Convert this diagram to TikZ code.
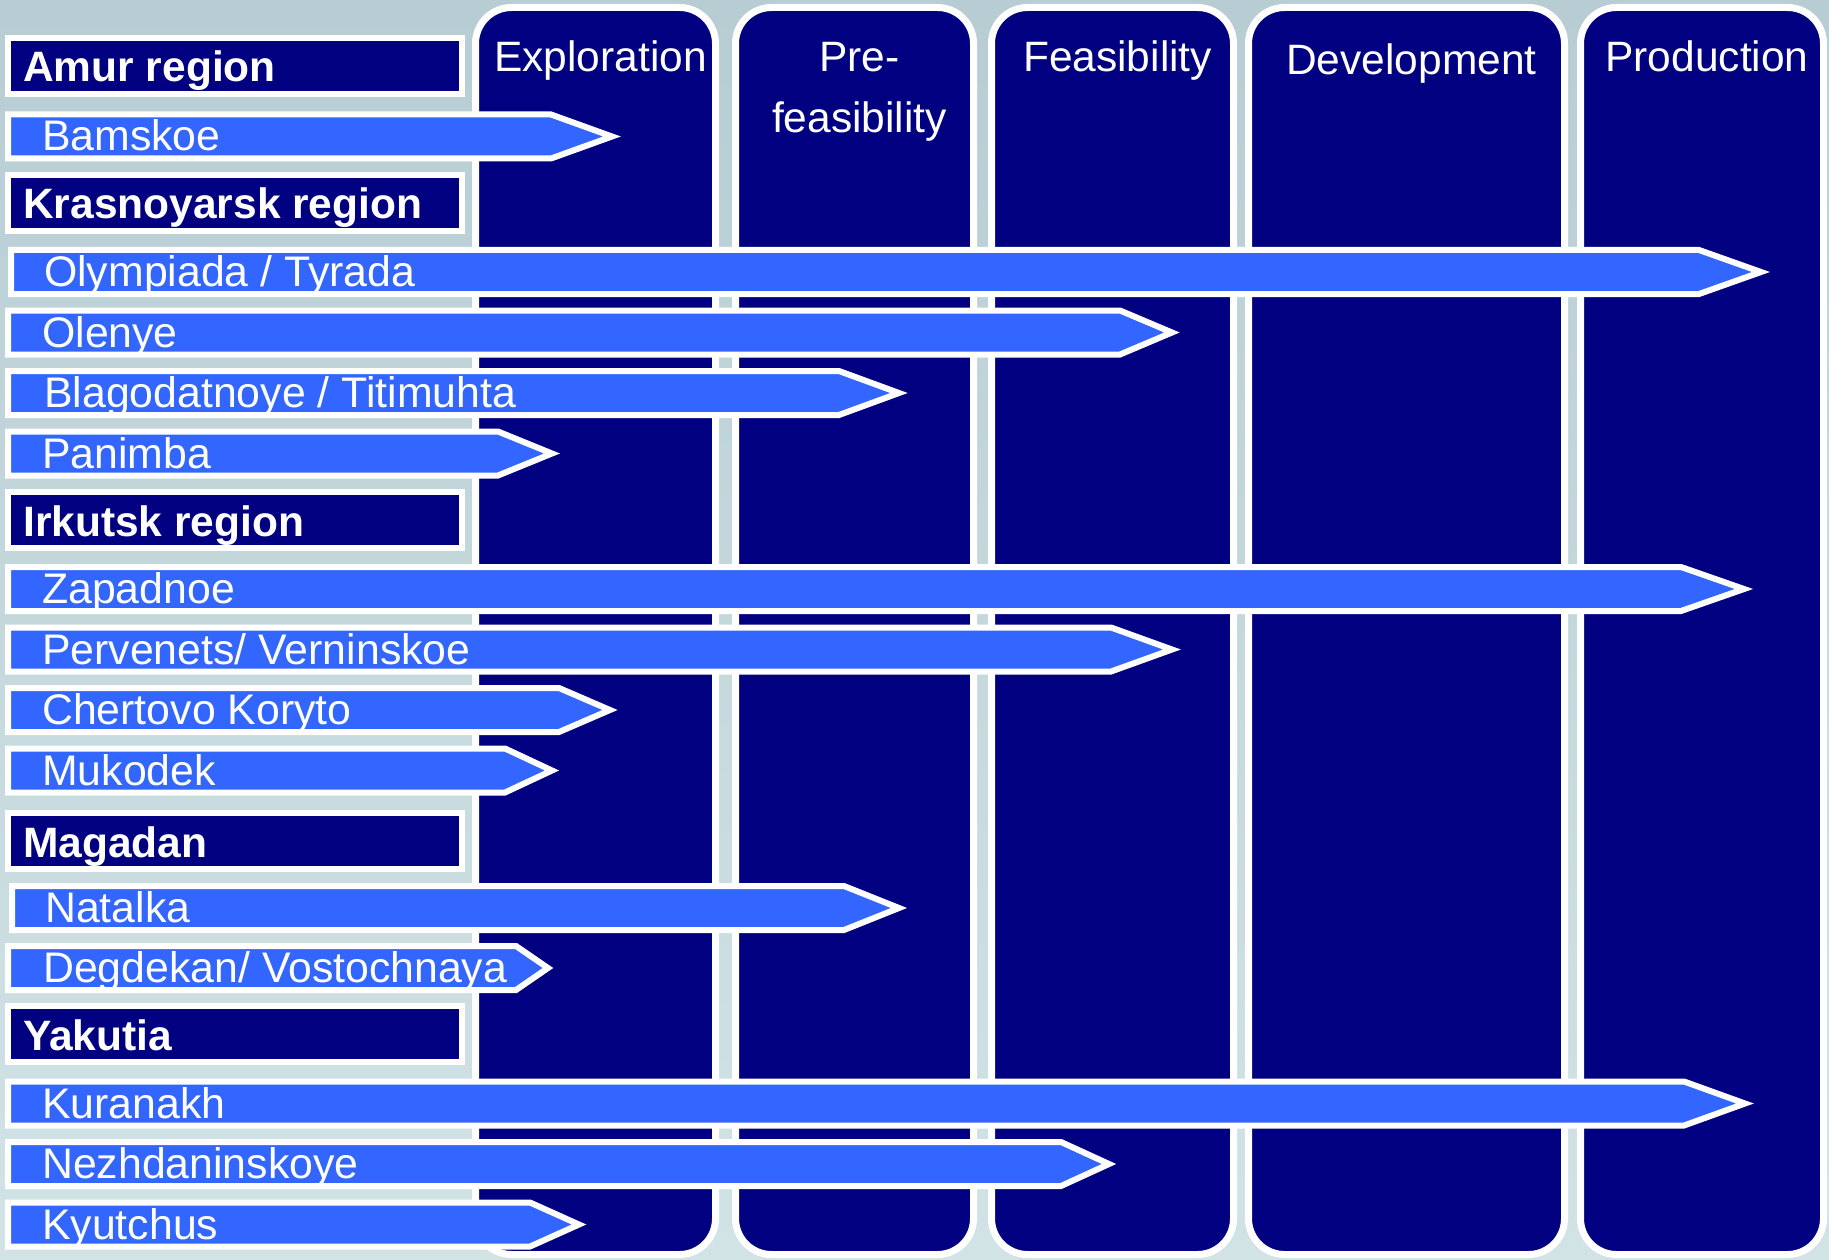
\documentclass[tikz,border=0pt]{standalone}
\usepackage{fontspec}
\setmainfont{Liberation Sans}
\definecolor{stagenavy}{HTML}{000080}
\definecolor{barblue}{HTML}{3366FF}
\definecolor{icetop}{HTML}{B7CDD3}
\definecolor{icebottom}{HTML}{D2E3E6}

% one deposit arrow: name, left x, centre y, end of straight part, tip x, label, label x
\newcommand\deposit[7]{%
  \draw[barshape] (#2,#3-22) -- (#4,#3-22) -- (#5,#3) -- (#4,#3+22) -- (#2,#3+22) -- cycle;
  \node[bartext] (#1) at (#7,#3+14.5) {#6};
}
% one region heading box: name, centre y, label
\newcommand\region[3]{%
  \draw[regionbox] (8,#2-28) rectangle (462,#2+28);
  \node[regiontext] (#1) at (23,#2+16) {#3};
}
% one stage column: name, left x, right x, heading, baseline of its last line
\newcommand\stage[5]{%
  \draw[stagebox] (#2,7.5) rectangle (#3,1254.5);
  \node[stagetext] (#1) at ({(#2+#3)/2+5},#5) {#4};
}

\begin{document}
\begin{tikzpicture}[x=1pt,y=-1pt,
  stagebox/.style={draw=white,line width=7pt,fill=stagenavy,rounded corners=36pt},
  stagetext/.style={anchor=base,text=white,inner sep=0pt,align=center,
    font=\fontsize{42.5}{61}\selectfont},
  regionbox/.style={draw=white,line width=6pt,fill=stagenavy},
  regiontext/.style={anchor=base west,text=white,inner sep=0pt,
    font=\bfseries\fontsize{42.5}{42.5}\selectfont},
  barshape/.style={draw=white,line width=6pt,fill=barblue,line join=miter},
  bartext/.style={anchor=base west,text=white,inner sep=0pt,
    font=\fontsize{42.8}{42.8}\selectfont}]

% icy backdrop
\shade[top color=icetop,bottom color=icebottom] (0,0) rectangle (1829,1260);
\useasboundingbox (0,0) rectangle (1829,1260);

% stage columns
\stage{exploration}{475.5}{715.5}{Exploration}{72}
\stage{prefeas}{735.5}{973.5}{Pre-\\feasibility}{133}
\stage{feas}{991.5}{1233.5}{Feasibility}{72}
\stage{development}{1248.5}{1564.5}{Development}{75}
\stage{production}{1580.5}{1823.5}{Production}{72}

% regions and their deposits
\region{amur}{66}{Amur region}
\deposit{bamskoe}{8}{136.5}{551}{612}{Bamskoe}{42}

\region{krasnoyarsk}{203}{Krasnoyarsk region}
\deposit{olympiada}{11}{272}{1699}{1761}{Olympiada / Tyrada}{44}
\deposit{olenye}{8}{332.5}{1120}{1172}{Olenye}{42}
\deposit{blagodatnoye}{8}{393}{839}{899}{Blagodatnoye / Titimuhta}{44}
\deposit{panimba}{8}{453.5}{498}{552}{Panimba}{42}

\region{irkutsk}{520}{Irkutsk region}
\deposit{zapadnoe}{8}{589}{1681}{1744}{Zapadnoe}{42}
\deposit{pervenets}{8}{649.5}{1111}{1172}{Pervenets/ Verninskoe}{42}
\deposit{chertovo}{8}{710}{559}{610}{Chertovo Koryto}{42}
\deposit{mukodek}{8}{770.5}{505}{552}{Mukodek}{42}

\region{magadan}{841}{Magadan}
\deposit{natalka}{12}{908}{844}{899}{Natalka}{45}
\deposit{degdekan}{8}{968}{516}{548}{Degdekan/ Vostochnaya}{43}

\region{yakutia}{1034}{Yakutia}
\deposit{kuranakh}{8}{1103.5}{1684}{1745}{Kuranakh}{42}
\deposit{nezhdaninskoye}{8}{1164}{1061}{1109}{Nezhdaninskoye}{42}
\deposit{kyutchus}{8}{1224.5}{530}{579}{Kyutchus}{42}

\end{tikzpicture}
\end{document}
